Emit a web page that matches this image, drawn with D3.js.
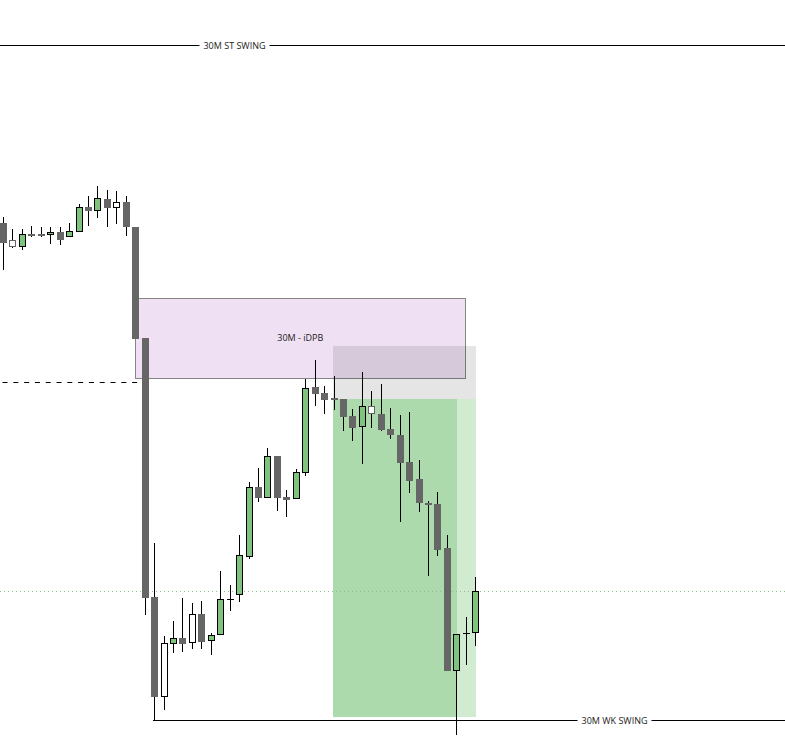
<!DOCTYPE html>
<html>
<head>
<meta charset="utf-8">
<script src="https://cdn.jsdelivr.net/npm/d3@7/dist/d3.min.js"></script>
<style>
  html, body { margin: 0; padding: 0; background: #fff; }
  svg { display: block; }
  text { font-family: "Open Sans", "DejaVu Sans", sans-serif; }
</style>
</head>
<body>
<svg id="chart" width="785" height="747"></svg>
<script>
// ---------------- DATA ----------------
const opens  = [152.43,150.70,150.03,151.30,151.30,151.17,151.50,150.97,151.53,153.97,
                153.63,154.80,153.87,154.47,152.00,140.90,114.97,105.00,110.30,110.90,
                110.40,113.30,110.60,111.20,114.80,115.17,118.97,126.00,124.87,129.10,
                125.00,124.77,127.37,136.00,135.40,134.90,134.80,133.10,131.97,134.07,
                133.30,131.80,131.20,128.50,126.80,124.40,124.30,119.90,107.63,111.37,111.43];
const highs  = [153.03,151.80,151.77,152.10,152.00,152.00,152.00,152.43,154.30,155.13,
                156.10,155.70,155.60,155.13,152.00,140.90,120.40,111.10,112.60,114.90,
                114.40,114.60,111.43,117.60,116.20,121.20,126.50,127.90,129.93,129.10,
                125.70,127.77,136.80,138.70,136.10,137.10,134.80,133.80,137.50,135.60,
                136.30,133.90,133.20,133.50,128.70,124.60,125.50,121.20,111.27,113.00,117.00];
const lows   = [147.70,149.93,149.70,151.03,150.97,150.30,150.23,150.97,151.53,152.10,
                152.93,152.03,152.27,151.13,140.83,113.20,102.70,103.70,109.40,109.50,
                109.80,109.83,109.23,111.20,113.60,114.50,118.77,124.50,124.87,123.63,
                123.03,124.77,127.13,134.13,133.33,133.73,131.63,130.63,128.33,131.93,
                131.63,130.83,122.53,125.43,123.53,117.10,119.13,107.60,101.20,108.20,110.13];
const closes = [150.43,150.03,151.30,151.10,151.10,151.47,150.70,151.60,153.97,153.60,
                154.87,153.93,154.47,151.97,140.83,114.93,105.00,110.40,110.90,110.30,
                113.30,110.53,111.20,114.80,114.80,119.17,125.97,124.93,129.10,124.93,
                124.73,127.47,135.87,135.33,134.73,134.73,133.03,131.93,134.07,133.27,
                131.70,131.23,128.43,126.63,124.43,124.23,119.70,107.60,111.27,111.37,115.57];

// Horizontal levels
const stSwing = { label: "30M ST SWING", price: 170.23, from: -1 };
const wkSwing = { label: "30M WK SWING", price: 102.70, from: 16 };
const dashedLevel = { price: 136.47, from: -0.05, to: 14.5 };
// Zone box
const zone = { label: "30M - iDPB", top: 144.87, bottom: 136.87, from: 14, to: 48.95 };
// Position (short) tool
const position = { entry: 134.80, stop: 140.07, target: 102.97, from: 34.95, to: 50.07, reached: 48.1 };

// ---------------- SCALES ----------------
const W = 785, H = 747;
const x = d3.scaleLinear().domain([0, 50]).range([3, 475.2]);
const y = d3.scaleLinear().domain([100, 174.7]).range([H, 0]);

const svg = d3.select("#chart");
const candles = opens.map((o, i) => ({ i, o, h: highs[i], l: lows[i], c: closes[i] }));
candles.forEach((d, i) => {
  const p = candles[i - 1];
  d.inside = !!p && d.h < p.h && d.l > p.l;
  d.doji = d.o === d.c;
  d.up = d.c > d.o;
});

const GREEN = "#7ec47f", GRAY = "#666666";

// ---------------- ZONE BOX ----------------
svg.append("rect")
  .attr("x", Math.round(x(zone.from)) + 0.5)
  .attr("y", Math.round(y(zone.top)) + 0.5)
  .attr("width", Math.round(x(zone.to)) - Math.round(x(zone.from)))
  .attr("height", Math.round(y(zone.bottom)) - Math.round(y(zone.top)))
  .attr("fill", "#efe0f3")
  .attr("stroke", "#858585")
  .attr("stroke-width", 1);

// ---------------- POSITION TOOL ----------------
const px0 = Math.round(x(position.from)), px1 = Math.round(x(position.to));
const pxr = Math.round(x(position.reached));
svg.append("rect")
  .attr("x", px0).attr("y", Math.round(y(position.stop)))
  .attr("width", px1 - px0)
  .attr("height", Math.round(y(position.entry)) - Math.round(y(position.stop)))
  .attr("fill", "rgba(0,0,0,0.1)");
svg.append("rect")
  .attr("x", px0).attr("y", Math.round(y(position.entry)))
  .attr("width", px1 - px0)
  .attr("height", Math.round(y(position.target)) - Math.round(y(position.entry)))
  .attr("fill", "#d1ebd1");
svg.append("rect")
  .attr("x", px0).attr("y", Math.round(y(position.entry)))
  .attr("width", pxr - px0)
  .attr("height", Math.round(y(position.target)) - Math.round(y(position.entry)))
  .attr("fill", "#acdaac");

// zone label
svg.append("text")
  .attr("x", (x(zone.from) + x(zone.to)) / 2)
  .attr("y", (y(zone.top) + y(zone.bottom)) / 2 + 3)
  .attr("text-anchor", "middle")
  .attr("font-size", 9)
  .attr("fill", "#222")
  .text(zone.label);

// ---------------- LEVEL LINES ----------------
const lastClose = closes[closes.length - 1];
svg.append("line")
  .attr("x1", 0).attr("x2", W)
  .attr("y1", Math.round(y(lastClose)) + 0.5).attr("y2", Math.round(y(lastClose)) + 0.5)
  .attr("stroke", "#8dbf8d").attr("stroke-width", 1)
  .attr("stroke-dasharray", "1,3");

svg.append("line")
  .attr("x1", x(dashedLevel.from)).attr("x2", x(dashedLevel.to))
  .attr("y1", Math.round(y(dashedLevel.price)) + 0.5).attr("y2", Math.round(y(dashedLevel.price)) + 0.5)
  .attr("stroke", "#000").attr("stroke-width", 1)
  .attr("stroke-dasharray", "5,5.8");

function swingLine(lv, labelX) {
  const yy = Math.round(y(lv.price)) + 0.5;
  const g = svg.append("g");
  g.append("line")
    .attr("x1", Math.max(0, Math.round(x(lv.from)) - 1)).attr("x2", W)
    .attr("y1", yy).attr("y2", yy)
    .attr("stroke", "#000").attr("stroke-width", 1);
  const t = g.append("text")
    .attr("x", labelX).attr("y", yy + 3)
    .attr("text-anchor", "middle")
    .attr("font-size", 9)
    .attr("fill", "#222")
    .text(lv.label);
  const bb = t.node().getBBox();
  g.insert("rect", "text")
    .attr("x", bb.x - 4).attr("y", yy - 4)
    .attr("width", bb.width + 8).attr("height", 8)
    .attr("fill", "#fff");
}
swingLine(stSwing, 234.5);
swingLine(wkSwing, 614.5);

// ---------------- CANDLES ----------------
const cg = svg.append("g").attr("shape-rendering", "crispEdges");
candles.forEach(d => {
  const cx = Math.round(x(d.i));
  // wick
  cg.append("line")
    .attr("x1", cx + 0.5).attr("x2", cx + 0.5)
    .attr("y1", y(d.h)).attr("y2", y(d.l))
    .attr("stroke", "#000").attr("stroke-width", 1);
  const top = Math.round(y(Math.max(d.o, d.c)));
  const bot = Math.round(y(Math.min(d.o, d.c)));
  if (d.doji) {
    cg.append("line")
      .attr("x1", cx - 3).attr("x2", cx + 4)
      .attr("y1", top + 0.5).attr("y2", top + 0.5)
      .attr("stroke", "#000").attr("stroke-width", 1);
  } else if (d.inside) {
    cg.append("rect")
      .attr("x", cx - 2.5).attr("y", top + 0.5)
      .attr("width", 6).attr("height", Math.max(1, bot - top - 1))
      .attr("fill", "#fff")
      .attr("stroke", d.up ? "#000" : GRAY).attr("stroke-width", 1);
  } else if (d.up) {
    cg.append("rect")
      .attr("x", cx - 2.5).attr("y", top + 0.5)
      .attr("width", 6).attr("height", Math.max(1, bot - top - 1))
      .attr("fill", GREEN)
      .attr("stroke", "#000").attr("stroke-width", 1);
  } else {
    cg.append("rect")
      .attr("x", cx - 3).attr("y", top)
      .attr("width", 7).attr("height", Math.max(2, bot - top))
      .attr("fill", GRAY);
  }
});
</script>
</body>
</html>
